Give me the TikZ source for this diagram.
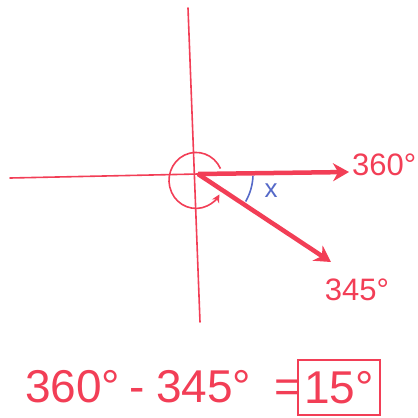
\documentclass[tikz,border=0pt]{standalone}
\usepackage{fontspec}
\setmainfont{Liberation Sans}
\usetikzlibrary{arrows.meta}
\definecolor{pen}{RGB}{242,62,86}
\definecolor{bpen}{RGB}{85,105,200}
\begin{document}
\begin{tikzpicture}[x=1pt,y=-1pt,
  axis/.style={pen,line width=1.6pt,line cap=round},
  ray/.style={pen,line width=4.5pt,-{Stealth[length=16pt,width=18pt]}},
  lbl/.style={pen,font=\fontsize{31}{31}\selectfont,inner sep=0pt},
  eq/.style={pen,font=\fontsize{46}{46}\selectfont,inner sep=0pt}]
\useasboundingbox (0,0) rectangle (418,418);
\coordinate (O) at (198,174);
\coordinate (top) at (188,8);
\coordinate (bot) at (200,322);
\coordinate (left) at (10,178);
% axes
\draw[axis] (top) -- (bot);
\draw[axis] (left) -- (O) -- (346,172);
% rays
\coordinate (e360) at (349,172);
\coordinate (e345) at (331,262);
\draw[ray] (O) -- (e360);
\draw[ray] (O) -- (e345);
\node[lbl,anchor=base west] (l360) at (352,175) {360°};
\node[lbl,anchor=base] (l345) at (357,300) {345°};
% reflex angle loop
\draw[pen,line width=1.6pt,-{Stealth[length=8pt,width=8pt]}] (196,180) ++(-25:27) arc[start angle=-25,end angle=-330,x radius=27,y radius=28];
% angle x
\draw[bpen,line width=1.6pt] (O) ++(2:55) arc[start angle=2,end angle=30,radius=55];
\node[bpen,font=\fontsize{26}{26}\selectfont,inner sep=0pt] (x) at (271,191) {x};
% equation
\node[eq,anchor=base west] (a) at (25,402) {360°};
\node[eq,anchor=base] (minus) at (137,402) {-};
\node[eq,anchor=base west] (b) at (156,402) {345°};
\node[eq,anchor=base] (eqs) at (288,402) {=};
\node[eq,draw,line width=1.8pt,minimum width=82pt,minimum height=55pt] (res) at (339,387.5) {15°};
\end{tikzpicture}
\end{document}
